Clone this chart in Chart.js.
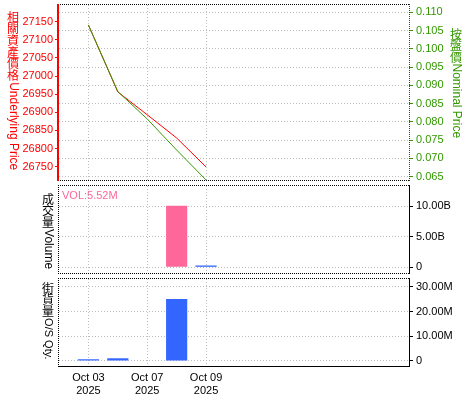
<!DOCTYPE html>
<html><head><meta charset="utf-8">
<script src="https://cdn.jsdelivr.net/npm/chart.js@4.4.0/dist/chart.umd.min.js"></script>
<style>
html,body{margin:0;padding:0;background:#fff;}
#wrap{position:relative;width:475px;height:400px;overflow:hidden;font-family:"Liberation Sans",Arial,"Noto Sans CJK TC",sans-serif;}
canvas{position:absolute;left:0;}
.lbl{position:absolute;font-size:11px;line-height:12px;white-space:nowrap;}
</style></head><body>
<div id="wrap">
<canvas id="cPrice" style="top:0px" width="475" height="183"></canvas>
<canvas id="cVol" style="top:183px" width="475" height="92"></canvas>
<canvas id="cQty" style="top:275px" width="475" height="125"></canvas>
<div class="lbl" style="left:62px;top:189px;color:#ff6699">VOL:5.52M</div>
</div>
<script>
// ---- data ----
const dates = ['2025-10-03', '2025-10-06', '2025-10-07', '2025-10-08', '2025-10-09'];
const dayIndex = [1, 2, 3, 4, 5];               // trading-day position on the time axis
const underlyingPrice = [27141, 26956, 26893, 26829, 26749];
const nominalPrice = [0.1065, 0.0883, 0.0808, 0.0723, 0.0641];
const volume = [null, null, null, 10.1e9, 0.3e9];
const outstandingQty = [0.7e6, 1.1e6, null, 25.1e6, null];

const xTickIdx = [1, 3, 5];
const xTickLabels = [['Oct 03', '2025'], ['Oct 07', '2025'], ['Oct 09', '2025']];
const underlyingTicks = [27150, 27100, 27050, 27000, 26950, 26900, 26850, 26800, 26750];
const nominalTicks = [0.110, 0.105, 0.100, 0.095, 0.090, 0.085, 0.080, 0.075, 0.070, 0.065];
const volumeTicks = [0, 5e9, 10e9];
const volumeTickLabels = ['0', '5.00B', '10.00B'];
const qtyTicks = [0, 10e6, 20e6, 30e6];
const qtyTickLabels = ['0', '10.00M', '20.00M', '30.00M'];

// ---- helpers ----
const FONT = {family: '"Liberation Sans", Arial, sans-serif', size: 11};
const GRID = '#bdbdbd';
const X_MIN = 0, X_MAX = 11.9;

function seg(ctx, x1, y1, x2, y2, s) {
  ctx.save();
  ctx.strokeStyle = s.color; ctx.lineWidth = s.width || 1;
  ctx.setLineDash(s.dash || []);
  ctx.beginPath(); ctx.moveTo(x1, y1); ctx.lineTo(x2, y2); ctx.stroke();
  ctx.restore();
}
const framePlugin = {
  id: 'frame',
  afterDraw(chart, args, o) {
    const {ctx, chartArea: {left, right, top, bottom}} = chart;
    if (o.top) seg(ctx, left - 1, top - 0.5, right + 1, top - 0.5, o.top);
    if (o.bottom) seg(ctx, left - 1, bottom + 0.5, right + 1, bottom + 0.5, o.bottom);
    if (o.left) { const w = o.left.width || 1; const x = w === 2 ? left - 1 : left - 0.5; seg(ctx, x, top - 1, x, bottom + 1, o.left); }
    if (o.right) seg(ctx, right + 0.5, top - 1, right + 0.5, bottom + 1, o.right);
  }
};
// vertical axis titles: CJK upright, Latin rotated clockwise
const vTitlePlugin = {
  id: 'vtitle',
  afterDraw(chart, args, o) {
    if (!o.items) return;
    const ctx = chart.ctx;
    o.items.forEach(t => {
      ctx.save();
      ctx.fillStyle = t.color;
      ctx.font = '12px "Noto Sans CJK TC", sans-serif';
      ctx.textAlign = 'center'; ctx.textBaseline = 'top';
      const chars = Array.from(t.cjk);
      chars.forEach((ch, i) => ctx.fillText(ch, t.x, t.y + i * t.adv));
      const ly = t.y + chars.length * t.adv + 1;
      ctx.translate(t.x, ly);
      ctx.rotate(Math.PI / 2);
      ctx.font = (t.latinSize || 12) + 'px "Liberation Sans", Arial, sans-serif';
      ctx.textAlign = 'left'; ctx.textBaseline = 'middle';
      ctx.fillText(t.latin, 0, 0);
      ctx.restore();
    });
  }
};
function zeroPad(s) { s.paddingTop = 0; s.paddingBottom = 0; s.paddingLeft = 0; s.paddingRight = 0; }

function xAxis(showLabels, height) {
  return {
    type: 'linear', position: 'bottom', min: X_MIN, max: X_MAX, offset: false,
    afterBuildTicks: s => { s.ticks = xTickIdx.map(v => ({value: v})); },
    afterFit: s => { s.height = height; zeroPad(s); },
    grid: {color: GRID, drawTicks: false, drawOnChartArea: true, offset: false},
    border: {display: false, dash: [1, 2]},
    ticks: {
      display: showLabels, color: '#000', font: FONT, padding: 5, maxRotation: 0, autoSkip: false,
      callback: v => { const i = xTickIdx.indexOf(v); return i >= 0 ? xTickLabels[i] : ''; }
    }
  };
}
function rightAxis(min, max, tickVals, fmt, tickColor, labelColor) {
  return {
    type: 'linear', position: 'right', min, max,
    afterBuildTicks: s => { s.ticks = tickVals.map(v => ({value: v})); },
    afterFit: s => { s.width = 66; zeroPad(s); },
    grid: {color: GRID, drawOnChartArea: true, drawTicks: true, tickLength: 4, tickColor, tickBorderDash: [], tickWidth: 1},
    border: {display: false, dash: [1, 2]},
    ticks: {color: labelColor, font: FONT, padding: 3, autoSkip: false, callback: fmt}
  };
}

// ---- price chart ----
new Chart(document.getElementById('cPrice'), {
  type: 'line',
  data: {
    datasets: [
      {label: 'Nominal Price', yAxisID: 'yR', data: dayIndex.map((x, i) => ({x, y: nominalPrice[i]})),
       borderColor: '#339900', borderWidth: 1, pointRadius: 0, tension: 0, fill: false},
      {label: 'Underlying Price', yAxisID: 'yL', data: dayIndex.map((x, i) => ({x, y: underlyingPrice[i]})),
       borderColor: '#ff0000', borderWidth: 1, pointRadius: 0, tension: 0, fill: false}
    ]
  },
  options: {
    responsive: false, animation: false, events: [],
    layout: {padding: {top: 5, bottom: 3, left: 0, right: 0}},
    plugins: {
      legend: {display: false}, tooltip: {enabled: false},
      frame: {top: {color: '#000', dash: [1, 1]}, bottom: {color: '#000', dash: [1, 1]},
              left: {color: '#ff0000', width: 2}, right: {color: '#1d5200', dash: [1, 1]}},
      vtitle: {items: [
        {cjk: '相關資產價格', latin: 'Underlying Price', x: 13, y: 11, adv: 11.7, color: '#ff0000'},
        {cjk: '按盤價', latin: 'Nominal Price', x: 456, y: 28, adv: 11.5, color: '#339900'}
      ]}
    },
    scales: {
      x: xAxis(false, 0),
      yL: {
        type: 'linear', position: 'left', min: 26713, max: 27196,
        afterBuildTicks: s => { s.ticks = underlyingTicks.map(v => ({value: v})); },
        afterFit: s => { s.width = 59; zeroPad(s); },
        grid: {drawOnChartArea: false, drawTicks: true, tickLength: 4, tickColor: '#ff0000'},
        border: {display: false},
        ticks: {color: '#ff0000', font: FONT, padding: 2, autoSkip: false, callback: v => String(v)}
      },
      yR: rightAxis(0.0641, 0.1120, nominalTicks, v => v.toFixed(3), '#339900', '#339900')
    }
  },
  plugins: [framePlugin, vTitlePlugin]
});

// ---- volume chart ----
new Chart(document.getElementById('cVol'), {
  type: 'bar',
  data: {
    datasets: [{
      label: 'Volume', data: dayIndex.map((x, i) => ({x, y: volume[i]})),
      backgroundColor: ctx => (ctx.dataIndex === 4 ? '#3366ff' : '#ff6699'),
      borderWidth: 0
    }]
  },
  options: {
    responsive: false, animation: false, events: [],
    layout: {padding: {top: 3, bottom: 2, left: 59, right: 0}},
    plugins: {
      legend: {display: false}, tooltip: {enabled: false},
      frame: {top: {color: '#000', dash: [1, 1]}, bottom: {color: '#000', dash: [1, 1]},
              left: {color: '#000', dash: [1, 1]}, right: {color: '#000'}},
      vtitle: {items: [
        {cjk: '成交量', latin: 'Volume', x: 48, y: 10, adv: 11.7, color: '#000'}
      ]}
    },
    scales: {
      x: xAxis(false, 0),
      y: rightAxis(-0.93e9, 13.33e9, volumeTicks, v => volumeTickLabels[volumeTicks.indexOf(v)], '#000', '#000')
    }
  },
  plugins: [framePlugin, vTitlePlugin]
});

// ---- outstanding quantity chart ----
new Chart(document.getElementById('cQty'), {
  type: 'bar',
  data: {
    datasets: [{
      label: 'O/S Qty.', data: dayIndex.map((x, i) => ({x, y: outstandingQty[i]})),
      backgroundColor: '#3366ff', borderWidth: 0
    }]
  },
  options: {
    responsive: false, animation: false, events: [],
    layout: {padding: {top: 4, bottom: 0, left: 59, right: 0}},
    plugins: {
      legend: {display: false}, tooltip: {enabled: false},
      frame: {top: {color: '#000', dash: [1, 1]}, bottom: {color: '#000'},
              left: {color: '#000', dash: [1, 1]}, right: {color: '#000'}},
      vtitle: {items: [
        {cjk: '街貨量', latin: 'O/S Qty.', x: 48, y: 7, adv: 11.7, color: '#000', latinSize: 11}
      ]}
    },
    scales: {
      x: xAxis(true, 34),
      y: rightAxis(-2.03e6, 33.24e6, qtyTicks, v => qtyTickLabels[qtyTicks.indexOf(v)], '#000', '#000')
    }
  },
  plugins: [framePlugin, vTitlePlugin]
});
</script>
</body></html>
